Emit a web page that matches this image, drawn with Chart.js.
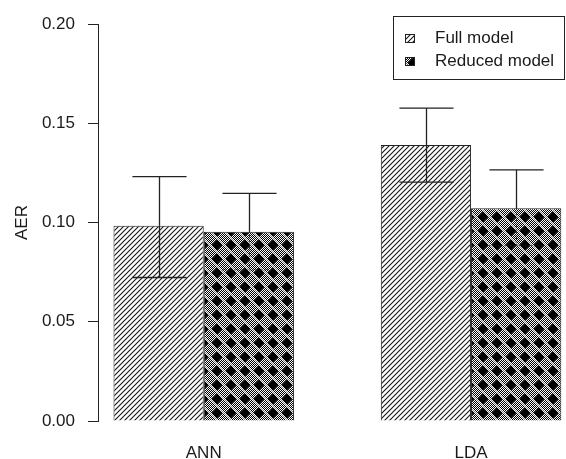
<!DOCTYPE html>
<html><head><meta charset="utf-8">
<script src="https://cdn.jsdelivr.net/npm/chart.js@4"></script>
<style>html,body{margin:0;padding:0;background:#fff}</style>
</head><body><canvas id="c" width="566" height="459"></canvas>
<script>
const categories = ['ANN', 'LDA'];
const seriesNames = ['Full model', 'Reduced model'];
const fullMean = [0.0984, 0.1391];
const fullUpper = [0.1231, 0.1576];
const fullLower = [0.0723, 0.1203];
const reducedMean = [0.0954, 0.1072];
const reducedUpper = [0.1147, 0.1265];
const reducedLower = [0.0761, 0.0883];
const yTicks = [0, 0.05, 0.10, 0.15, 0.20];
const yTitle = 'AER';

function hatchPattern() {
  const c = document.createElement('canvas'); c.width = 5; c.height = 5;
  const g = c.getContext('2d');
  g.fillStyle = '#fff'; g.fillRect(0, 0, 5, 5);
  g.strokeStyle = '#1a1a1a'; g.lineWidth = 1.15;
  g.beginPath();
  g.moveTo(-1, 6); g.lineTo(6, -1);
  g.moveTo(-1, 1); g.lineTo(1, -1);
  g.moveTo(4, 6); g.lineTo(6, 4);
  g.stroke();
  return g.createPattern(c, 'repeat');
}
function diamondPattern() {
  const n = 14;
  const c = document.createElement('canvas'); c.width = n; c.height = n;
  const g = c.getContext('2d');
  for (let x = 0; x < n; x++) for (let y = 0; y < n; y++) {
    g.fillStyle = ((x + y) % 2) ? '#000' : '#fff';
    g.fillRect(x, y, 1, 1);
  }
  g.strokeStyle = 'rgba(255,255,255,0.8)'; g.lineWidth = 0.8;
  g.beginPath();
  g.moveTo(7, 0.2); g.lineTo(13.8, 7); g.lineTo(7, 13.8); g.lineTo(0.2, 7); g.closePath();
  g.stroke();
  g.fillStyle = '#000';
  g.beginPath();
  g.moveTo(7, 1.6); g.lineTo(12.4, 7); g.lineTo(7, 12.4); g.lineTo(1.6, 7); g.closePath();
  g.fill();
  return g.createPattern(c, 'repeat');
}
const fills = [hatchPattern(), diamondPattern()];
const uppers = [fullUpper, reducedUpper];
const lowers = [fullLower, reducedLower];

Chart.defaults.font.family = '"Liberation Sans", Arial, sans-serif';
Chart.defaults.font.size = 17;
Chart.defaults.color = '#1a1a1a';

const errorBars = {
  id: 'errorBars',
  afterDatasetsDraw(chart) {
    const ctx = chart.ctx, ys = chart.scales.y;
    ctx.save();
    ctx.strokeStyle = '#222'; ctx.lineWidth = 1.3;
    chart.data.datasets.forEach((ds, di) => {
      const meta = chart.getDatasetMeta(di);
      meta.data.forEach((bar, j) => {
        const x = Math.round(bar.x) + 0.5;
        const yt = ys.getPixelForValue(uppers[di][j]);
        const yb = ys.getPixelForValue(lowers[di][j]);
        const ym = bar.y;
        const half = bar.width * 0.3;
        ctx.setLineDash([]);
        ctx.beginPath();
        ctx.moveTo(x, yt); ctx.lineTo(x, ym);
        ctx.moveTo(x - half, yt); ctx.lineTo(x + half, yt);
        ctx.stroke();
        ctx.setLineDash(di === 1 ? [1, 2] : []);
        ctx.beginPath();
        ctx.moveTo(x, ym); ctx.lineTo(x, yb);
        ctx.moveTo(x - half, yb); ctx.lineTo(x + half, yb);
        ctx.stroke();
      });
    });
    ctx.restore();
  }
};

const boxLegend = {
  id: 'boxLegend',
  afterDraw(chart) {
    const ctx = chart.ctx;
    ctx.save();
    ctx.strokeStyle = '#222'; ctx.lineWidth = 1;
    ctx.strokeRect(393.5, 16.5, 171, 63);
    ctx.font = '17px "Liberation Sans", Arial, sans-serif';
    ctx.textBaseline = 'middle';
    chart.data.datasets.forEach((ds, i) => {
      const cy = 38 + i * 23;
      ctx.fillStyle = fills[i];
      ctx.fillRect(405, cy - 4, 10, 9);
      ctx.strokeRect(405.5, cy - 3.5, 9, 8);
      ctx.fillStyle = '#1a1a1a';
      ctx.fillText(ds.label, 435, cy);
    });
    ctx.restore();
  }
};

const xs = categories.map((c, i) => i + 1);
new Chart(document.getElementById('c'), {
  type: 'bar',
  data: {
    datasets: [
      { label: seriesNames[0], data: xs.map((x, i) => ({ x, y: fullMean[i] })),
        backgroundColor: fills[0], borderColor: '#222', borderWidth: 1 },
      { label: seriesNames[1], data: xs.map((x, i) => ({ x, y: reducedMean[i] })),
        backgroundColor: fills[1], borderColor: '#222', borderWidth: 1 }
    ]
  },
  options: {
    responsive: false, animation: false, events: [],
    categoryPercentage: 0.675, barPercentage: 1,
    layout: { padding: { top: 24, right: 0, bottom: 0, left: 0 } },
    plugins: { legend: { display: false }, tooltip: { enabled: false } },
    scales: {
      x: {
        type: 'linear', min: 0.6045, max: 2.3552, offset: false,
        afterBuildTicks(s) { s.ticks = xs.map(v => ({ value: v })); },
        afterFit(s) { s.height = 38; },
        grid: { display: false, drawTicks: false, offset: false },
        border: { display: false },
        ticks: { padding: 22, callback: (v, i) => categories[i], color: '#1a1a1a' }
      },
      y: {
        min: 0, max: 0.2,
        afterBuildTicks(s) { s.ticks = yTicks.map(v => ({ value: v })); },
        afterFit(s) { s.width = 98; },
        grid: { drawOnChartArea: false, drawTicks: true, tickLength: 10, color: '#222' },
        border: { display: true, color: '#222', width: 1 },
        ticks: { padding: 13, callback: v => v.toFixed(2), color: '#1a1a1a' },
        title: { display: true, text: yTitle, color: '#1a1a1a', padding: { top: 12, bottom: 0 } }
      }
    }
  },
  plugins: [errorBars, boxLegend]
});
</script></body></html>
